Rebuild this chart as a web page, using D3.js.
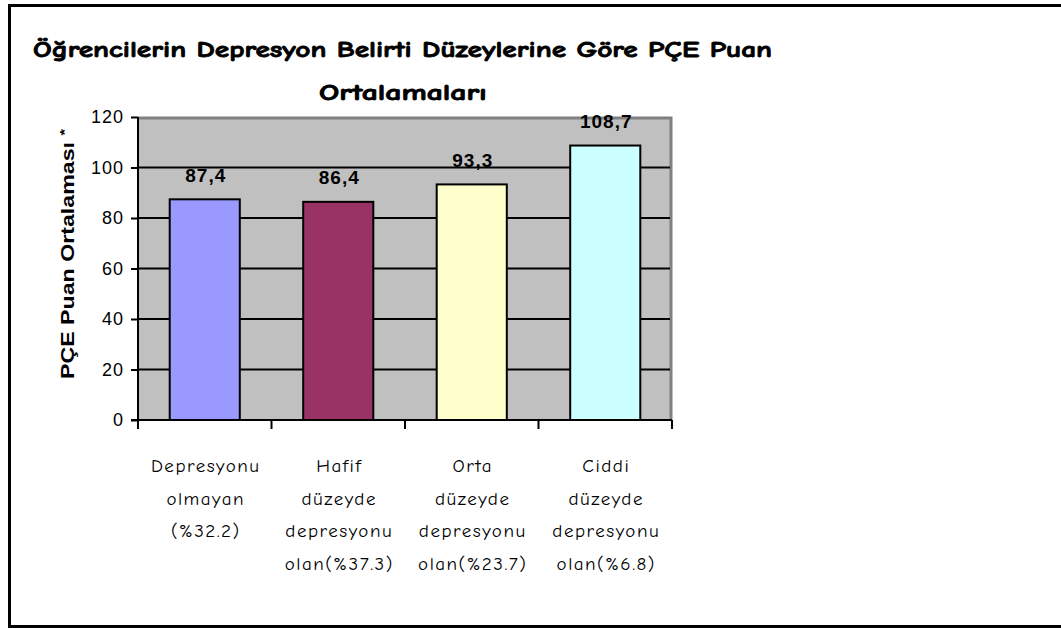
<!DOCTYPE html>
<html>
<head>
<meta charset="utf-8">
<script src="https://cdn.jsdelivr.net/npm/d3@7"></script>
<style>
  body { margin: 0; background: #fff; }
  svg { display: block; }
</style>
</head>
<body>
<svg id="svg" width="1061" height="628"></svg>
<script>
  // chart data
  var categories = ["Depresyonu olmayan (%32.2)", "Hafif düzeyde depresyonu olan(%37.3)",
                    "Orta düzeyde depresyonu olan(%23.7)", "Ciddi düzeyde depresyonu olan(%6.8)"];
  var categoryLines = [
    ["Depresyonu", "olmayan", "(%32.2)"],
    ["Hafif", "düzeyde", "depresyonu", "olan(%37.3)"],
    ["Orta", "düzeyde", "depresyonu", "olan(%23.7)"],
    ["Ciddi", "düzeyde", "depresyonu", "olan(%6.8)"]
  ];
  var values = [87.4, 86.4, 93.3, 108.7];
  var valueLabels = ["87,4", "86,4", "93,3", "108,7"];
  var yTicks = [0, 20, 40, 60, 80, 100, 120];

  var fillColors = ["#9999ff", "#993366", "#ffffcc", "#ccffff"];

  var comicFont = "'Comic Sans MS', 'Comic Neue', 'Open Sans', sans-serif";
  var arialFont = "Arial, 'Liberation Sans', sans-serif";

  var render = function()
  {
    var svg = d3.select("#svg");

    // outer frame
    svg.append("rect")
      .attr("x", 9.5).attr("y", 5.5)
      .attr("width", 1100).attr("height", 621)
      .attr("fill", "none").attr("stroke", "#000").attr("stroke-width", 3);

    // plot area bounds
    var plotLeft = 138, plotRight = 672, plotTop = 117, plotBottom = 420;

    var x = d3.scaleBand()
      .domain(categories)
      .range([plotLeft, plotRight])
      .paddingInner(0.475)
      .paddingOuter(0.2375);

    var y = d3.scaleLinear()
      .domain([0, 120])
      .range([plotBottom, plotTop]);

    // gray background with dark border on top/right
    svg.append("rect")
      .attr("x", plotLeft).attr("y", plotTop)
      .attr("width", plotRight - plotLeft).attr("height", plotBottom - plotTop)
      .attr("fill", "#c0c0c0");
    svg.append("path")
      .attr("d", "M" + plotLeft + "," + (plotTop + 1) + "H" + (plotRight - 1) + "V" + plotBottom)
      .attr("fill", "none").attr("stroke", "#808080").attr("stroke-width", 3);

    // gridlines
    svg.append("g").selectAll("line")
      .data(yTicks.slice(1, -1))
      .enter().append("line")
        .attr("x1", plotLeft).attr("x2", plotRight - 2)
        .attr("y1", function(d) { return y(d); })
        .attr("y2", function(d) { return y(d); })
        .attr("stroke", "#000").attr("stroke-width", 2);

    // bars
    svg.append("g").selectAll("rect")
      .data(values)
      .enter().append("rect")
        .attr("x", function(d, i) { return x(categories[i]); })
        .attr("y", function(d) { return y(d); })
        .attr("width", x.bandwidth())
        .attr("height", function(d) { return plotBottom - y(d); })
        .attr("fill", function(d, i) { return fillColors[i]; })
        .attr("stroke", "#000").attr("stroke-width", 2);

    // value labels
    svg.append("g").selectAll("text")
      .data(values)
      .enter().append("text")
        .attr("x", function(d, i) { return x(categories[i]) + x.bandwidth() / 2 + 1; })
        .attr("y", function(d) { return y(d) - 17.5; })
        .attr("text-anchor", "middle")
        .attr("font-family", arialFont)
        .attr("font-weight", "bold")
        .attr("font-size", 19)
        .attr("letter-spacing", 1)
        .text(function(d, i) { return valueLabels[i]; });

    // y axis
    var yAxis = svg.append("g")
      .attr("transform", "translate(" + plotLeft + ",0)")
      .call(d3.axisLeft(y).tickValues(yTicks).tickSize(7).tickPadding(7).tickFormat(d3.format("d")));
    yAxis.select(".domain").attr("stroke-width", 2).attr("d", "M0," + (plotBottom + 9) + "V" + plotTop);
    yAxis.selectAll(".tick line").attr("stroke-width", 2);
    yAxis.selectAll("text")
      .attr("font-family", arialFont).attr("font-size", 18)
      .attr("letter-spacing", 1).attr("fill", "#000");

    // x axis, ticks between the categories
    var xAxis = svg.append("g");
    xAxis.append("line")
      .attr("x1", plotLeft - 7).attr("x2", plotRight)
      .attr("y1", plotBottom).attr("y2", plotBottom)
      .attr("stroke", "#000").attr("stroke-width", 2);
    var gap = (x.step() - x.bandwidth()) / 2;
    xAxis.selectAll(".xt")
      .data(categories)
      .enter().append("line")
        .attr("x1", function(d) { return x(d) + x.bandwidth() + gap; })
        .attr("x2", function(d) { return x(d) + x.bandwidth() + gap; })
        .attr("y1", plotBottom).attr("y2", plotBottom + 9)
        .attr("stroke", "#000").attr("stroke-width", 2);

    // category labels
    var catLabels = svg.append("g").selectAll("text")
      .data(categoryLines)
      .enter().append("text")
        .attr("text-anchor", "middle")
        .attr("font-family", comicFont)
        .attr("font-size", 19)
        .attr("letter-spacing", 1.5);
    catLabels.each(function(lines, i) {
      var cx = x(categories[i]) + x.bandwidth() / 2 + 1;
      d3.select(this).selectAll("tspan")
        .data(lines)
        .enter().append("tspan")
          .attr("x", cx)
          .attr("y", function(d, j) { return 472 + j * 32.5; })
          .text(function(d) { return d; });
    });

    // y axis title
    var yTitle = svg.append("text")
      .attr("transform", "translate(74,254) rotate(-90)")
      .attr("text-anchor", "middle")
      .attr("font-family", arialFont)
      .attr("font-weight", "bold")
      .attr("font-size", 18)
      .attr("textLength", 250)
      .attr("lengthAdjust", "spacingAndGlyphs");
    yTitle.append("tspan").text("PÇE Puan Ortalaması ");
    yTitle.append("tspan").attr("dy", -5).attr("font-size", 13).text("*");

    // chart title
    svg.append("text")
      .attr("x", 33).attr("y", 57)
      .attr("font-family", comicFont)
      .attr("font-weight", "bold")
      .attr("font-size", 22)
      .attr("stroke", "#000").attr("stroke-width", 0.8)
      .attr("textLength", 739)
      .attr("lengthAdjust", "spacingAndGlyphs")
      .text("Öğrencilerin Depresyon  Belirti Düzeylerine Göre PÇE Puan");
    svg.append("text")
      .attr("x", 319).attr("y", 100)
      .attr("font-family", comicFont)
      .attr("font-weight", "bold")
      .attr("font-size", 22)
      .attr("stroke", "#000").attr("stroke-width", 0.8)
      .attr("textLength", 168)
      .attr("lengthAdjust", "spacingAndGlyphs")
      .text("Ortalamaları");
  };

  render();
</script>
</body>
</html>
